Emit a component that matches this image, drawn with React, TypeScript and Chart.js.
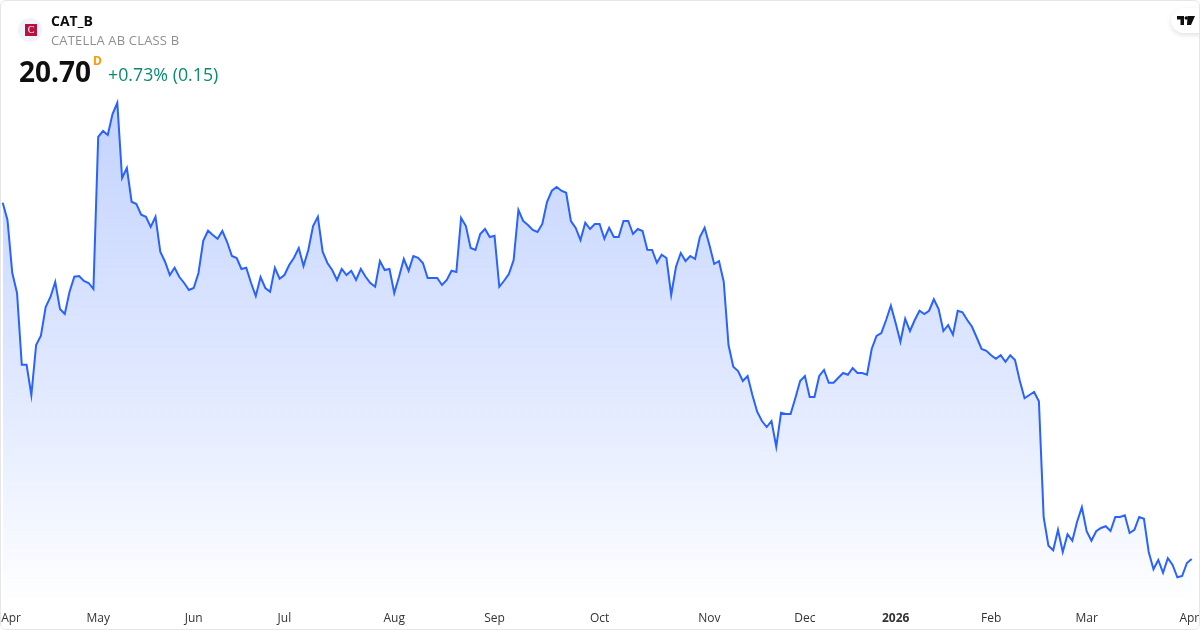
import React, { useEffect, useRef } from "react";
import { Chart, registerables } from "chart.js";

Chart.register(...registerables);

const prices: number[] = [
  34.95, 34.26, 32.15, 31.34, 28.47, 28.47, 27.26, 29.26, 29.63, 30.78,
  31.18, 31.78, 30.70, 30.50, 31.39, 31.99, 32.02, 31.82, 31.74, 31.50,
  37.59, 37.82, 37.66, 38.50, 38.95, 35.94, 36.34, 34.99, 34.90, 34.47,
  34.39, 33.98, 34.39, 32.99, 32.59, 32.06, 32.35, 31.98, 31.74, 31.46,
  31.54, 32.14, 33.43, 33.83, 33.66, 33.51, 33.82, 33.38, 32.82, 32.74,
  32.30, 32.35, 31.75, 31.22, 31.98, 31.54, 31.39, 32.35, 31.91, 32.06,
  32.46, 32.75, 33.14, 32.42, 33.06, 34.02, 34.39, 32.99, 32.54, 32.26,
  31.86, 32.30, 32.06, 32.23, 31.86, 32.30, 31.99, 31.74, 31.59, 32.62,
  32.26, 32.30, 31.34, 31.99, 32.70, 32.23, 32.82, 32.75, 32.54, 31.94,
  31.94, 31.94, 31.66, 31.86, 32.23, 32.18, 34.34, 34.02, 33.14, 33.06,
  33.70, 33.90, 33.58, 33.63, 31.59, 31.83, 32.10, 32.66, 34.66, 34.22,
  34.06, 33.86, 33.78, 34.10, 34.99, 35.43, 35.58, 35.43, 35.35, 34.22,
  33.94, 33.46, 34.15, 33.90, 34.10, 34.10, 33.51, 33.95, 33.58, 33.58,
  34.22, 34.22, 33.70, 33.90, 33.82, 33.07, 33.06, 32.55, 32.87, 32.74,
  31.26, 32.39, 32.94, 32.62, 32.82, 32.70, 33.58, 33.95, 33.26, 32.50,
  32.62, 31.79, 29.26, 28.39, 28.22, 27.82, 28.02, 27.26, 26.59, 26.22,
  25.98, 26.22, 25.19, 26.55, 26.50, 26.50, 27.14, 27.82, 28.02, 27.18,
  27.18, 28.02, 28.26, 27.75, 27.75, 27.95, 28.14, 28.07, 28.34, 28.14,
  28.14, 28.07, 29.11, 29.62, 29.74, 30.26, 30.83, 30.14, 29.39, 30.31,
  29.82, 30.26, 30.63, 30.50, 30.63, 31.09, 30.70, 29.82, 30.06, 29.67,
  30.63, 30.57, 30.26, 29.99, 29.55, 29.10, 29.03, 28.85, 28.71, 28.85,
  28.59, 28.85, 28.66, 27.83, 27.13, 27.26, 27.38, 27.01, 22.37, 21.23,
  21.05, 21.87, 20.98, 21.69, 21.43, 22.19, 22.77, 21.81, 21.43, 21.81,
  21.94, 22.01, 21.82, 22.38, 22.38, 22.45, 21.74, 21.87, 22.38, 22.31,
  20.98, 20.29, 20.66, 20.15, 20.73, 20.46, 19.97, 20.02, 20.54, 20.70,
];

const tickLabels: string[] = ["Apr", "May", "Jun", "Jul", "Aug", "Sep", "Oct", "Nov", "Dec", "2026", "Feb", "Mar", "Apr"];
const tickSessions: number[] = [1.75, 20, 40, 59, 82, 103, 125, 148, 168, 187, 207, 227, 248.5];

const FONT = '"Open Sans", "Noto Sans", sans-serif';

export default function App() {
  const ref = useRef<HTMLCanvasElement | null>(null);

  useEffect(() => {
    const canvas = ref.current;
    if (!canvas) return;
    const chart = new Chart(canvas, {
      type: "line",
      data: {
        datasets: [
          {
            data: prices.map((p, i) => ({ x: i, y: p })),
            borderColor: "#2962ff",
            borderWidth: 2,
            pointRadius: 0,
            tension: 0,
            fill: "start",
            backgroundColor: (ctx: any) => {
              const area = ctx.chart.chartArea;
              if (!area) return "rgba(41,98,255,0.2)";
              const g = ctx.chart.ctx.createLinearGradient(0, 102, 0, area.bottom);
              g.addColorStop(0, "rgba(41,98,255,0.28)");
              g.addColorStop(0.6, "rgba(41,98,255,0.135)");
              g.addColorStop(1, "rgba(41,98,255,0.004)");
              return g;
            },
          },
        ],
      },
      options: {
        responsive: false,
        animation: false,
        layout: { padding: 0 },
        plugins: { legend: { display: false }, tooltip: { enabled: false } },
        scales: {
          x: {
            type: "linear",
            min: -0.565,
            max: 250.74,
            grid: { display: false },
            border: { display: false },
            afterBuildTicks: (axis: any) => {
              axis.ticks = tickSessions.map((value) => ({ value }));
            },
            afterFit: (axis: any) => {
              axis.height = 30;
              axis.paddingLeft = 0;
              axis.paddingRight = 0;
            },
            ticks: {
              autoSkip: false,
              maxRotation: 0,
              minRotation: 0,
              padding: 3,
              color: "#333333",
              font: (ctx: any) => ({
                family: FONT,
                size: 12,
                weight: tickLabels[ctx.index] === "2026" ? "bold" : "normal",
              }),
              callback: (_v: any, i: number) => tickLabels[i],
            },
          },
          y: {
            display: false,
            min: 19.06,
            max: 43.06,
          },
        },
      },
    } as any);
    return () => chart.destroy();
  }, []);

  const text = (s: React.CSSProperties): React.CSSProperties => ({
    position: "absolute",
    fontFamily: FONT,
    whiteSpace: "nowrap",
    lineHeight: 1,
    ...s,
  });

  return (
    <div style={{ position: "fixed", left: 0, top: 0, width: 1200, height: 630, background: "#fff", overflow: "hidden" }}>
      <canvas ref={ref} width={1200} height={630} style={{ position: "absolute", left: 0, top: 0, display: "block" }} />
      <div style={{ position: "absolute", left: 1171, top: 8, width: 40, height: 25, borderRadius: 13, background: "#fff", boxShadow: "0 2px 5px rgba(0,0,0,0.12)" }} />
      <svg style={{ position: "absolute", left: 1177, top: 16 }} width="18" height="9" viewBox="0 0 36 18">
        <path fill="#0f0f0f" d="M0 0h14v18H7V7H0zM21 0h15l-8 18h-8z" />
        <circle cx="18.5" cy="4" r="3.5" fill="#0f0f0f" />
      </svg>
      <div style={{ position: "absolute", inset: 0, boxSizing: "border-box", border: "1px solid #e6e6e6", borderRadius: 6, pointerEvents: "none" }} />
      <div style={{ position: "absolute", left: 18, top: 18, width: 24, height: 24, borderRadius: 12, background: "#f0f3fa" }} />
      <div style={{ position: "absolute", left: 25, top: 24, width: 12, height: 12, background: "#b5123f", color: "#fff", fontFamily: "Liberation Serif", fontSize: 10, lineHeight: "12px", textAlign: "center" }}>C</div>
      <div style={text({ left: 51, top: 14, fontSize: 14, fontWeight: 700, color: "#0f0f0f" })}>CAT_B</div>
      <div style={text({ left: 51, top: 34, fontSize: 13, letterSpacing: 0.17, color: "#8f8f8f" })}>CATELLA AB CLASS B</div>
      <div style={text({ left: 19, top: 57, fontSize: 28, fontWeight: 700, color: "#0f0f0f" })}>20.70</div>
      <div style={text({ left: 93, top: 55, fontSize: 12, fontWeight: 700, color: "#ff9800" })}>D</div>
      <div style={text({ left: 108, top: 66, fontSize: 17.8, color: "#0b8a72" })}>+0.73% (0.15)</div>
    </div>
  );
}
